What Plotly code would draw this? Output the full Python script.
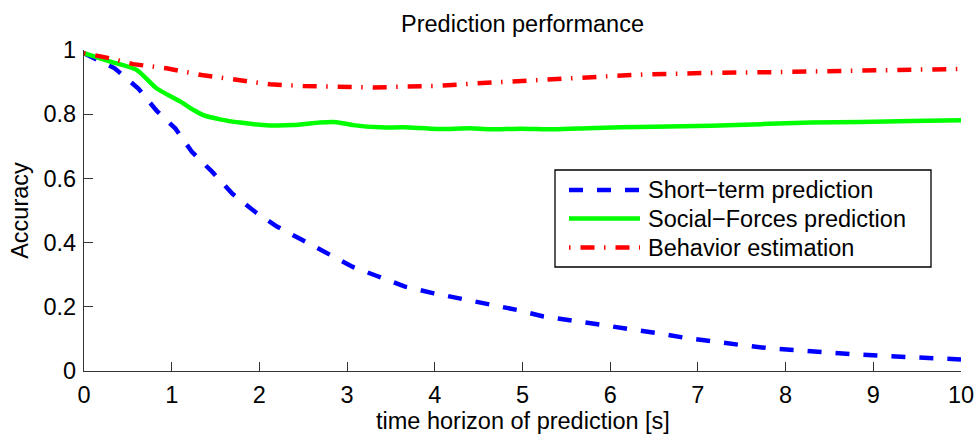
import plotly.graph_objects as go

# ---- data ----
short_x = [0, 0.35, 0.62, 0.83, 1.04, 1.23, 1.46, 1.69, 1.95, 2.2, 2.49, 2.77, 3.06, 3.34,
           3.66, 3.99, 4.29, 4.62, 4.94, 5.24, 5.57, 5.89, 6.21, 6.54, 6.84, 7.15, 7.49,
           7.81, 8.14, 8.46, 8.78, 9.11, 9.43, 9.75, 10]
short_y = [0.99, 0.943, 0.88, 0.81, 0.756, 0.683, 0.621, 0.553, 0.496, 0.45, 0.408, 0.367,
           0.325, 0.296, 0.263, 0.242, 0.226, 0.207, 0.19, 0.17, 0.157, 0.145, 0.131, 0.118,
           0.104, 0.092, 0.081, 0.071, 0.064, 0.057, 0.052, 0.047, 0.042, 0.039, 0.036]

social_x = [0, 0.3, 0.6, 0.83, 1.1, 1.25, 1.36, 1.55, 1.78, 2.12, 2.39, 2.69, 2.88, 3.07,
            3.38, 3.65, 4.03, 4.41, 4.62, 4.98, 5.36, 5.74, 6.12, 6.5, 7.15, 7.72, 8.29,
            8.86, 9.43, 10]
social_y = [0.99, 0.964, 0.938, 0.88, 0.839, 0.813, 0.797, 0.784, 0.774, 0.765, 0.766,
            0.774, 0.775, 0.766, 0.759, 0.759, 0.754, 0.756, 0.753, 0.755, 0.753, 0.756,
            0.759, 0.761, 0.764, 0.769, 0.774, 0.776, 0.779, 0.781]

behav_x = [0, 0.3, 0.56, 0.94, 1.34, 1.74, 2.12, 2.5, 2.88, 3.3, 3.64, 4.02, 4.47, 4.85,
           5.23, 5.61, 6.03, 6.41, 6.77, 7.19, 7.61, 8.02, 8.4, 8.78, 9.16, 9.58, 10]
behav_y = [0.99, 0.974, 0.956, 0.943, 0.922, 0.906, 0.893, 0.888, 0.886, 0.883, 0.886,
           0.888, 0.896, 0.902, 0.909, 0.914, 0.919, 0.924, 0.927, 0.929, 0.93, 0.932,
           0.935, 0.936, 0.938, 0.94, 0.941]

series_names = ["Short\u2212term prediction", "Social\u2212Forces prediction", "Behavior estimation"]
series_colors = ["#0000ff", "#00ff00", "#ff0000"]
series_dashes = ["14px,14px", "solid", "1.5px,10px,14px,9.5px"]
x_ticks = [0, 1, 2, 3, 4, 5, 6, 7, 8, 9, 10]
y_ticks = [0, 0.2, 0.4, 0.6, 0.8, 1]
y_tick_text = ["0", "0.2", "0.4", "0.6", "0.8", "1"]

FONT = "Liberation Sans, Arial, sans-serif"
FS = 23.5
AX = "#333333"
W, H = 977, 434
ML, MR, MT, MB = 84, 16, 50, 63
PW, PH = W - ML - MR, H - MT - MB


def px_to_paper_x(px):
    return (px - ML) / PW


def px_to_paper_y(py):
    return (H - MB - py) / PH


fig = go.Figure()
fig.add_trace(go.Scatter(x=short_x, y=short_y, mode="lines", name=series_names[0],
                         line=dict(color=series_colors[0], width=4.5, dash=series_dashes[0])))
fig.add_trace(go.Scatter(x=social_x, y=social_y, mode="lines", name=series_names[1],
                         line=dict(color=series_colors[1], width=4.5, shape="spline",
                                   smoothing=0.6)))
fig.add_trace(go.Scatter(x=behav_x, y=behav_y, mode="lines", name=series_names[2],
                         line=dict(color=series_colors[2], width=4.5, dash=series_dashes[2])))

# legend drawn as box + sample lines + labels (to match the reference's layout)
shapes = [dict(type="rect", xref="paper", yref="paper",
               x0=px_to_paper_x(555), x1=px_to_paper_x(931),
               y0=px_to_paper_y(267), y1=px_to_paper_y(170),
               line=dict(color="black", width=1.3), fillcolor="white", layer="above")]
annotations = []
row_y = [190, 218.5, 247.5]
for name, col, dsh, ry in zip(series_names, series_colors, series_dashes, row_y):
    shapes.append(dict(type="line", xref="paper", yref="paper",
                       x0=px_to_paper_x(569), x1=px_to_paper_x(640),
                       y0=px_to_paper_y(ry), y1=px_to_paper_y(ry),
                       line=dict(color=col, width=4.5, dash=dsh), layer="above"))
    annotations.append(dict(text=name, xref="paper", yref="paper",
                            x=px_to_paper_x(646), y=px_to_paper_y(ry),
                            xanchor="left", yanchor="middle", showarrow=False,
                            font=dict(family=FONT, size=FS, color="black")))

# x-axis title placed explicitly
annotations.append(dict(text="time horizon of prediction [s]", xref="paper", yref="paper",
                        x=0.5, y=px_to_paper_y(421), xanchor="center", yanchor="middle",
                        showarrow=False, font=dict(family=FONT, size=FS, color="black")))

fig.update_layout(
    width=W, height=H,
    margin=dict(l=ML, r=MR, t=MT, b=MB),
    paper_bgcolor="white", plot_bgcolor="white",
    font=dict(family=FONT, size=FS, color="black"),
    title=dict(text="Prediction performance", x=0.5, xref="paper", xanchor="center",
               y=1 - 24 / H, yref="container", yanchor="middle",
               font=dict(family=FONT, size=FS, color="black")),
    xaxis=dict(range=[0, 10], tickmode="array", tickvals=x_ticks, ticks="inside",
               ticklen=9, tickcolor=AX, showline=True, linecolor=AX, linewidth=1.3,
               showgrid=False, zeroline=False, mirror=False, automargin=False,
               ticklabelstandoff=3,
               tickfont=dict(family=FONT, size=FS, color="black")),
    yaxis=dict(range=[0, 1], tickmode="array", tickvals=y_ticks, ticktext=y_tick_text,
               ticks="inside", ticklen=9, tickcolor=AX, showline=True, linecolor=AX,
               linewidth=1.3, showgrid=False, zeroline=False, mirror=False,
               automargin=False, ticklabelstandoff=2,
               tickfont=dict(family=FONT, size=FS, color="black"),
               title=dict(text="Accuracy", standoff=8,
                          font=dict(family=FONT, size=FS, color="black"))),
    shapes=shapes,
    annotations=annotations,
    showlegend=False,
)

fig.write_html("out.html")
